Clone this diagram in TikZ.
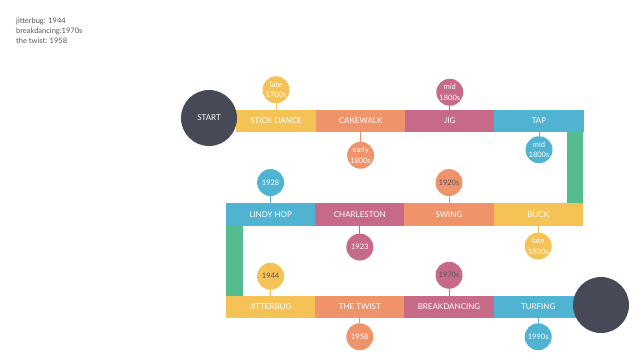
\documentclass[tikz,border=0pt]{standalone}
\usepackage{fontspec}
\setmainfont{Lato}
\usepackage{tikz}
\usetikzlibrary{positioning}
\definecolor{DanceYellow}{HTML}{F5C355}
\definecolor{DanceOrange}{HTML}{EE936A}
\definecolor{DancePink}{HTML}{C66A87}
\definecolor{DanceBlue}{HTML}{50B3D1}
\definecolor{DanceGreen}{HTML}{55BC8F}
\definecolor{DanceDark}{HTML}{474A56}
\definecolor{DanceText}{HTML}{555555}

\begin{document}
\begin{tikzpicture}[
    x=1pt, y=-1pt,
    seg/.style={
      rectangle, inner sep=0pt, outer sep=0pt, minimum width=89.2pt, minimum height=22.5pt,
      text=white, font=\fontsize{8}{9}\selectfont
    },
    bub/.style={
      circle, inner sep=0pt, outer sep=0pt, minimum size=27pt, align=center,
      text=white, font=\fontsize{7.5}{10.5}\selectfont
    },
    stem/.style={line width=1pt},
    hub/.style={circle, fill=DanceDark, minimum size=56pt, inner sep=0pt, text=white, font=\fontsize{8}{9}\selectfont}
  ]
    \useasboundingbox (0,0) rectangle (640,360);

    \node[anchor=north west, align=left, text=DanceText, font=\fontsize{7.5}{10}\selectfont, inner sep=0pt] (notes) at (16,18)
      {jitterbug: 1944\\breakdancing:1970s\\the twist: 1958};

    % first row
    \node[seg, fill=DanceYellow, minimum width=80pt] (stick) at (276,121) {STICK DANCE};
    \node[seg, fill=DanceOrange, right=0pt of stick] (cakewalk) {CAKEWALK};
    \node[seg, fill=DancePink, right=0pt of cakewalk] (jig) {JIG};
    \node[seg, fill=DanceBlue, right=0pt of jig] (tap) {TAP};

    % second row
    \node[seg, fill=DanceBlue] (lindy) at (270.6,214.3) {LINDY HOP};
    \node[seg, fill=DancePink, right=0pt of lindy] (charleston) {CHARLESTON};
    \node[seg, fill=DanceOrange, right=0pt of charleston] (swing) {SWING};
    \node[seg, fill=DanceYellow, right=0pt of swing] (buck) {BUCK};

    % third row
    \node[seg, fill=DanceYellow] (jitterbug) at (270.6,307) {JITTERBUG};
    \node[seg, fill=DanceOrange, right=0pt of jitterbug] (twist) {THE TWIST};
    \node[seg, fill=DancePink, right=0pt of twist] (breakdancing) {BREAKDANCING};
    \node[seg, fill=DanceBlue, right=0pt of breakdancing] (turfing) {TURFING};

    % turns
    \fill[DanceGreen] ([xshift=-17pt]tap.south east) rectangle (buck.north east);
    \fill[DanceGreen] (lindy.south west) rectangle ([xshift=17pt]jitterbug.north west);

    \node[hub] (start) at (209,118) {START};
    \node[hub] (finish) at (601,305) {};

    % dates
    \node[bub, fill=DanceYellow, above=6.5pt of stick] (d1) {late\\1700s};
    \node[bub, fill=DanceOrange, below=9.5pt of cakewalk] (d2) {early\\1800s};
    \node[bub, fill=DancePink, above=4pt of jig] (d3) {mid\\1800s};
    \node[bub, fill=DanceBlue, below=4pt of tap] (d4) {mid\\1800s};
    \node[bub, fill=DanceBlue, above=7pt of lindy] (d5) {1928};
    \node[bub, fill=DancePink, below=8pt of charleston] (d6) {1923};
    \node[bub, fill=DanceOrange, text=DanceText, above=7pt of swing] (d7) {1920s};
    \node[bub, fill=DanceYellow, below=7pt of buck] (d8) {late\\1800s};
    \node[bub, fill=DanceYellow, text=DanceText, above=6pt of jitterbug] (d9) {1944};
    \node[bub, fill=DanceOrange, below=5pt of twist] (d10) {1958};
    \node[bub, fill=DancePink, text=DanceText, above=7pt of breakdancing] (d11) {1970s};
    \node[bub, fill=DanceBlue, below=5pt of turfing] (d12) {1990s};

    \draw[stem, DanceYellow] (d1) -- (stick);
    \draw[stem, DanceOrange] (d2) -- (cakewalk);
    \draw[stem, DancePink] (d3) -- (jig);
    \draw[stem, DanceBlue] (d4) -- (tap);
    \draw[stem, DanceBlue] (d5) -- (lindy);
    \draw[stem, DancePink] (d6) -- (charleston);
    \draw[stem, DanceOrange] (d7) -- (swing);
    \draw[stem, DanceYellow] (d8) -- (buck);
    \draw[stem, DanceYellow] (d9) -- (jitterbug);
    \draw[stem, DanceOrange] (d10) -- (twist);
    \draw[stem, DancePink] (d11) -- (breakdancing);
    \draw[stem, DanceBlue] (d12) -- (turfing);
  \end{tikzpicture}
\end{document}
